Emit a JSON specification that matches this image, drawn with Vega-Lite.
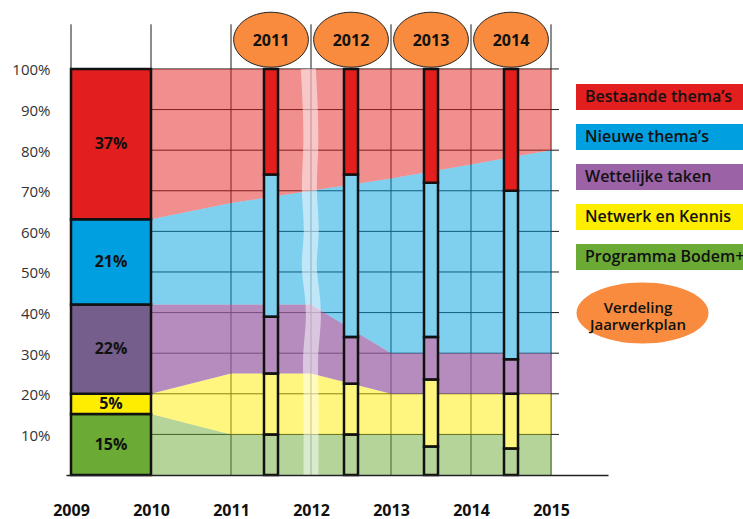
{
  "$schema": "https://vega.github.io/schema/vega-lite/v6.json",
  "width": 542,
  "height": 471,
  "autosize": {"type": "none"},
  "padding": {"left": 66, "top": 4, "right": 135, "bottom": 44},
  "background": "white",
  "config": {"view": {"stroke": null}, "font": "Open Sans"},
  "datasets": {
    "jaren": [{"jaar": 2009}, {"jaar": 2010}, {"jaar": 2011}, {"jaar": 2012}, {"jaar": 2013}, {"jaar": 2014}, {"jaar": 2015}],
    "pct": [{"pct": 10}, {"pct": 20}, {"pct": 30}, {"pct": 40}, {"pct": 50}, {"pct": 60}, {"pct": 70}, {"pct": 80}, {"pct": 90}, {"pct": 100}],
    "verloop": [
      {"jaar": 2010, "categorie": "Programma Bodem+", "volgorde": 1, "aandeel": 15},
      {"jaar": 2010, "categorie": "Netwerk en Kennis", "volgorde": 2, "aandeel": 5},
      {"jaar": 2010, "categorie": "Wettelijke taken", "volgorde": 3, "aandeel": 22},
      {"jaar": 2010, "categorie": "Nieuwe thema’s", "volgorde": 4, "aandeel": 21},
      {"jaar": 2010, "categorie": "Bestaande thema’s", "volgorde": 5, "aandeel": 37},
      {"jaar": 2011, "categorie": "Programma Bodem+", "volgorde": 1, "aandeel": 10},
      {"jaar": 2011, "categorie": "Netwerk en Kennis", "volgorde": 2, "aandeel": 15},
      {"jaar": 2011, "categorie": "Wettelijke taken", "volgorde": 3, "aandeel": 17},
      {"jaar": 2011, "categorie": "Nieuwe thema’s", "volgorde": 4, "aandeel": 25},
      {"jaar": 2011, "categorie": "Bestaande thema’s", "volgorde": 5, "aandeel": 33},
      {"jaar": 2012, "categorie": "Programma Bodem+", "volgorde": 1, "aandeel": 10},
      {"jaar": 2012, "categorie": "Netwerk en Kennis", "volgorde": 2, "aandeel": 15},
      {"jaar": 2012, "categorie": "Wettelijke taken", "volgorde": 3, "aandeel": 17},
      {"jaar": 2012, "categorie": "Nieuwe thema’s", "volgorde": 4, "aandeel": 28},
      {"jaar": 2012, "categorie": "Bestaande thema’s", "volgorde": 5, "aandeel": 30},
      {"jaar": 2013, "categorie": "Programma Bodem+", "volgorde": 1, "aandeel": 10},
      {"jaar": 2013, "categorie": "Netwerk en Kennis", "volgorde": 2, "aandeel": 10},
      {"jaar": 2013, "categorie": "Wettelijke taken", "volgorde": 3, "aandeel": 10},
      {"jaar": 2013, "categorie": "Nieuwe thema’s", "volgorde": 4, "aandeel": 43},
      {"jaar": 2013, "categorie": "Bestaande thema’s", "volgorde": 5, "aandeel": 27},
      {"jaar": 2014, "categorie": "Programma Bodem+", "volgorde": 1, "aandeel": 10},
      {"jaar": 2014, "categorie": "Netwerk en Kennis", "volgorde": 2, "aandeel": 10},
      {"jaar": 2014, "categorie": "Wettelijke taken", "volgorde": 3, "aandeel": 10},
      {"jaar": 2014, "categorie": "Nieuwe thema’s", "volgorde": 4, "aandeel": 46.5},
      {"jaar": 2014, "categorie": "Bestaande thema’s", "volgorde": 5, "aandeel": 23.5},
      {"jaar": 2015, "categorie": "Programma Bodem+", "volgorde": 1, "aandeel": 10},
      {"jaar": 2015, "categorie": "Netwerk en Kennis", "volgorde": 2, "aandeel": 10},
      {"jaar": 2015, "categorie": "Wettelijke taken", "volgorde": 3, "aandeel": 10},
      {"jaar": 2015, "categorie": "Nieuwe thema’s", "volgorde": 4, "aandeel": 50},
      {"jaar": 2015, "categorie": "Bestaande thema’s", "volgorde": 5, "aandeel": 20}
    ],
    "start": [
      {"van": 2009, "tot": 2010, "categorie": "Programma Bodem+", "volgorde": 1, "aandeel": 15, "label": "15%"},
      {"van": 2009, "tot": 2010, "categorie": "Netwerk en Kennis", "volgorde": 2, "aandeel": 5, "label": "5%"},
      {"van": 2009, "tot": 2010, "categorie": "Wettelijke taken", "volgorde": 3, "aandeel": 22, "label": "22%"},
      {"van": 2009, "tot": 2010, "categorie": "Nieuwe thema’s", "volgorde": 4, "aandeel": 21, "label": "21%"},
      {"van": 2009, "tot": 2010, "categorie": "Bestaande thema’s", "volgorde": 5, "aandeel": 37, "label": "37%"}
    ],
    "jwp": [
      {"midden": 2011.5, "categorie": "Programma Bodem+", "volgorde": 1, "aandeel": 10},
      {"midden": 2011.5, "categorie": "Netwerk en Kennis", "volgorde": 2, "aandeel": 15},
      {"midden": 2011.5, "categorie": "Wettelijke taken", "volgorde": 3, "aandeel": 14},
      {"midden": 2011.5, "categorie": "Nieuwe thema’s", "volgorde": 4, "aandeel": 35},
      {"midden": 2011.5, "categorie": "Bestaande thema’s", "volgorde": 5, "aandeel": 26},
      {"midden": 2012.5, "categorie": "Programma Bodem+", "volgorde": 1, "aandeel": 10},
      {"midden": 2012.5, "categorie": "Netwerk en Kennis", "volgorde": 2, "aandeel": 12.5},
      {"midden": 2012.5, "categorie": "Wettelijke taken", "volgorde": 3, "aandeel": 11.5},
      {"midden": 2012.5, "categorie": "Nieuwe thema’s", "volgorde": 4, "aandeel": 40},
      {"midden": 2012.5, "categorie": "Bestaande thema’s", "volgorde": 5, "aandeel": 26},
      {"midden": 2013.5, "categorie": "Programma Bodem+", "volgorde": 1, "aandeel": 7},
      {"midden": 2013.5, "categorie": "Netwerk en Kennis", "volgorde": 2, "aandeel": 16.5},
      {"midden": 2013.5, "categorie": "Wettelijke taken", "volgorde": 3, "aandeel": 10.5},
      {"midden": 2013.5, "categorie": "Nieuwe thema’s", "volgorde": 4, "aandeel": 38},
      {"midden": 2013.5, "categorie": "Bestaande thema’s", "volgorde": 5, "aandeel": 28},
      {"midden": 2014.5, "categorie": "Programma Bodem+", "volgorde": 1, "aandeel": 6.5},
      {"midden": 2014.5, "categorie": "Netwerk en Kennis", "volgorde": 2, "aandeel": 13.5},
      {"midden": 2014.5, "categorie": "Wettelijke taken", "volgorde": 3, "aandeel": 8.5},
      {"midden": 2014.5, "categorie": "Nieuwe thema’s", "volgorde": 4, "aandeel": 41.5},
      {"midden": 2014.5, "categorie": "Bestaande thema’s", "volgorde": 5, "aandeel": 30}
    ],
    "jwp_jaren": [
      {"midden": 2011.5, "label": "2011"},
      {"midden": 2012.5, "label": "2012"},
      {"midden": 2013.5, "label": "2013"},
      {"midden": 2014.5, "label": "2014"}
    ],
    "golf": [
      {"x": 2011.967, "y": 100}, {"x": 2011.994, "y": 90}, {"x": 2012.004, "y": 80},
      {"x": 2011.963, "y": 70}, {"x": 2012.025, "y": 60}, {"x": 2011.957, "y": 52},
      {"x": 2012.015, "y": 45.5}, {"x": 2012.043, "y": 38}, {"x": 2011.982, "y": 29.5},
      {"x": 2012.004, "y": 20}, {"x": 2012.0, "y": 9}, {"x": 2012.0, "y": 0}
    ]
  },
  "layer": [
    {
      "data": {"name": "jaren"},
      "mark": {"type": "rule", "color": "#1a1a1a", "strokeWidth": 1},
      "encoding": {
        "x": {
          "field": "jaar", "type": "quantitative", "title": null,
          "scale": {"domain": [2009, 2015.65], "nice": false, "zero": false},
          "axis": {
            "values": [2009, 2010, 2011, 2012, 2013, 2014, 2015], "format": "d", "title": null,
            "domain": true, "domainColor": "#222", "domainWidth": 1.5, "ticks": false, "grid": false,
            "labelFont": "Open Sans", "labelFontSize": 16, "labelFontWeight": "bold", "labelColor": "#111",
            "labelPadding": 27, "zindex": 1
          }
        },
        "y": {
          "datum": 0, "type": "quantitative", "title": null,
          "scale": {"domain": [0, 116], "nice": false},
          "axis": {
            "values": [10, 20, 30, 40, 50, 60, 70, 80, 90, 100], "labelExpr": "datum.value + '%'", "title": null,
            "domain": false, "ticks": false, "grid": false,
            "labelFont": "Open Sans", "labelFontSize": 15, "labelColor": "#333", "labelPadding": 16, "labelOffset": 1
          }
        },
        "y2": {"datum": 111}
      }
    },
    {
      "data": {"name": "pct"},
      "mark": {"type": "rule", "color": "#1a1a1a", "strokeWidth": 1},
      "encoding": {
        "y": {"field": "pct", "type": "quantitative", "title": null},
        "x": {"datum": 2010},
        "x2": {"datum": 2015.1}
      }
    },
    {
      "data": {"name": "verloop"},
      "mark": {"type": "area", "interpolate": "linear"},
      "encoding": {
        "x": {"field": "jaar", "type": "quantitative", "title": null},
        "y": {"field": "aandeel", "type": "quantitative", "stack": "zero", "title": null},
        "color": {
          "field": "categorie", "type": "nominal",
          "scale": {
            "domain": ["Bestaande thema’s", "Nieuwe thema’s", "Wettelijke taken", "Netwerk en Kennis", "Programma Bodem+"],
            "range": ["#E31E1E", "#009FE0", "#9B62A6", "#FFED00", "#6AAA35"]
          },
          "legend": {
            "orient": "none", "legendX": 510, "legendY": 80, "title": null, "padding": 0,
            "symbolType": "M -1 -1 L 11.85 -1 L 11.85 1 L -1 1 Z", "symbolSize": 676, "symbolStrokeWidth": 0,
            "symbolOpacity": 1,
            "labelOffset": -17, "labelFont": "Open Sans", "labelFontSize": 16, "labelFontWeight": 600, "labelColor": "#111",
            "labelLimit": 300, "rowPadding": 14
          }
        },
        "opacity": {"condition": {"test": "datum.categorie === 'Wettelijke taken'", "value": 0.73}, "value": 0.5},
        "order": {"field": "volgorde", "type": "quantitative"}
      }
    },
    {
      "data": {"name": "golf"},
      "mark": {"type": "line", "color": "white", "strokeWidth": 15, "opacity": 0.5, "interpolate": "basis", "strokeCap": "butt"},
      "encoding": {
        "x": {"field": "x", "type": "quantitative", "title": null},
        "y": {"field": "y", "type": "quantitative", "title": null},
        "order": {"field": "y", "type": "quantitative", "sort": "descending"}
      }
    },
    {
      "data": {"name": "start"},
      "transform": [{"stack": "aandeel", "groupby": ["van"], "sort": [{"field": "volgorde", "order": "ascending"}], "as": ["y0", "y1"]}],
      "mark": {"type": "bar", "stroke": "#111", "strokeWidth": 2.5},
      "encoding": {
        "x": {"field": "van", "type": "quantitative", "title": null},
        "x2": {"field": "tot"},
        "y": {"field": "y0", "type": "quantitative", "title": null},
        "y2": {"field": "y1"},
        "fill": {
          "field": "categorie", "type": "nominal", "legend": null,
          "scale": {"range": ["#E31E1E", "#FFED00", "#009FE0", "#6AAA35", "#765E8C"]}
        }
      }
    },
    {
      "data": {"name": "start"},
      "transform": [
        {"stack": "aandeel", "groupby": ["van"], "sort": [{"field": "volgorde", "order": "ascending"}], "as": ["y0", "y1"]},
        {"calculate": "(datum.y0 + datum.y1) / 2", "as": "mid"}
      ],
      "mark": {"type": "text", "font": "Open Sans", "fontSize": 16, "fontWeight": "bold", "color": "#111", "baseline": "middle"},
      "encoding": {
        "x": {"datum": 2009.5},
        "y": {"field": "mid", "type": "quantitative", "title": null},
        "text": {"field": "label"}
      }
    },
    {
      "data": {"name": "jwp_jaren"},
      "mark": {"type": "bar", "width": 14, "fill": "white", "orient": "vertical"},
      "encoding": {
        "x": {"field": "midden", "type": "quantitative", "title": null},
        "y": {"datum": 0},
        "y2": {"datum": 100}
      }
    },
    {
      "data": {"name": "jwp"},
      "transform": [{"stack": "aandeel", "groupby": ["midden"], "sort": [{"field": "volgorde", "order": "ascending"}], "as": ["y0", "y1"]}],
      "mark": {"type": "bar", "width": 14, "stroke": "#111", "strokeWidth": 2.5, "orient": "vertical"},
      "encoding": {
        "x": {"field": "midden", "type": "quantitative", "title": null},
        "y": {"field": "y0", "type": "quantitative", "title": null},
        "y2": {"field": "y1"},
        "color": {"field": "categorie", "type": "nominal"},
        "fillOpacity": {
          "condition": [
            {"test": "datum.categorie === 'Bestaande thema’s'", "value": 1},
            {"test": "datum.categorie === 'Wettelijke taken'", "value": 0.73}
          ],
          "value": 0.5
        }
      }
    },
    {
      "data": {"name": "jwp_jaren"},
      "mark": {
        "type": "point", "filled": true, "opacity": 1, "fill": "#F88B3E", "stroke": "#222", "strokeWidth": 1, "size": 5580,
        "shape": "M -1 0 C -1 -0.4065 -0.5523 -0.736 0 -0.736 C 0.5523 -0.736 1 -0.4065 1 0 C 1 0.4065 0.5523 0.736 0 0.736 C -0.5523 0.736 -1 0.4065 -1 0 Z"
      },
      "encoding": {
        "x": {"field": "midden", "type": "quantitative", "title": null},
        "y": {"datum": 107.2}
      }
    },
    {
      "data": {"name": "jwp_jaren"},
      "mark": {"type": "text", "font": "Open Sans", "fontSize": 16, "fontWeight": "bold", "color": "#111", "baseline": "middle", "dy": 1},
      "encoding": {
        "x": {"field": "midden", "type": "quantitative", "title": null},
        "y": {"datum": 107.2},
        "text": {"field": "label"}
      }
    },
    {
      "data": {"name": "jwp_jaren"},
      "mark": {"type": "point", "filled": true, "opacity": 0, "fill": "#F88B3E"},
      "encoding": {
        "x": {"field": "midden", "type": "quantitative", "title": null},
        "y": {"datum": 107.2},
        "shape": {
          "datum": "Verdeling Jaarwerkplan", "type": "nominal",
          "scale": {"range": ["M -1 0 C -1 -0.5523 -0.031 -1 1.164 -1 C 2.359 -1 3.328 -0.5523 3.328 0 C 3.328 0.5523 2.359 1 1.164 1 C -0.031 1 -1 0.5523 -1 0 Z"]},
          "legend": {
            "orient": "none", "legendX": 510, "legendY": 278, "title": null, "padding": 0,
            "symbolSize": 3721, "symbolStrokeWidth": 1, "symbolStrokeColor": "#222", "symbolFillColor": "#F88B3E",
            "labelAlign": "center", "labelBaseline": "alphabetic", "labelOffset": 0, "labelFont": "Open Sans", "labelFontSize": 15, "labelFontWeight": 600, "labelColor": "#111",
            "labelExpr": "['Verdeling', 'Jaarwerkplan']",
            "encode": {
              "symbols": {
                "fill": {"value": "#F88B3E"},
                "stroke": {"value": "#222"},
                "strokeWidth": {"value": 1},
                "opacity": {"value": 1}
              },
              "labels": {
                "lineHeight": {"value": 20},
                "dy": {"value": -7}
              }
            }
          }
        }
      }
    }
  ]
}
